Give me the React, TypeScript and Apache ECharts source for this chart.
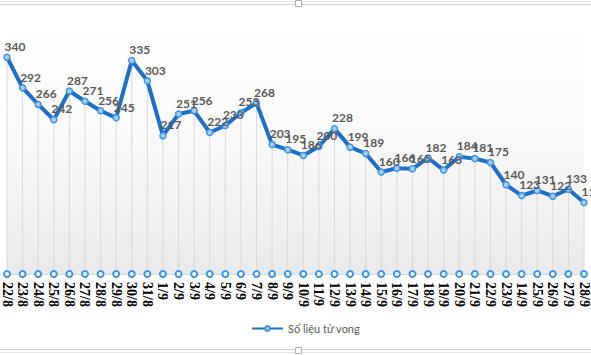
import React, { useEffect, useRef } from "react";
import * as echarts from "echarts";

const categories = [
  "22/8", "23/8", "24/8", "25/8", "26/8", "27/8", "28/8", "29/8", "30/8", "31/8",
  "1/9", "2/9", "3/9", "4/9", "5/9", "6/9", "7/9", "8/9", "9/9", "10/9",
  "11/9", "12/9", "13/9", "14/9", "15/9", "16/9", "17/9", "18/9", "19/9", "20/9",
  "21/9", "22/9", "23/9", "14/9", "25/9", "26/9", "27/9", "28/9",
];

const deaths = [
  340, 292, 266, 242, 287, 271, 256, 245, 335, 303,
  217, 251, 256, 222, 233, 253, 268, 203, 195, 186,
  200, 228, 199, 189, 160, 166, 165, 182, 163, 184,
  181, 175, 140, 123, 131, 122, 133, 112,
];

const baseline = categories.map(() => 0);

const seriesName = "Số liệu tử vong";

export default function App() {
  const ref = useRef<HTMLDivElement>(null);
  useEffect(() => {
    if (!ref.current) return;
    const chart = echarts.init(ref.current, undefined, { renderer: "svg" });
    chart.setOption({
      animation: false,
      backgroundColor: "#ffffff",
      grid: {
        left: 5,
        right: 1,
        top: 19,
        bottom: 81,
        show: true,
        borderWidth: 0,
        backgroundColor: new echarts.graphic.LinearGradient(0, 0, 0, 1, [
          { offset: 0, color: "#ffffff" },
          { offset: 0.4, color: "#fbfbfb" },
          { offset: 1, color: "#eaeaea" },
        ]),
      },
      legend: {
        data: [seriesName],
        bottom: 16,
        left: 246,
        itemWidth: 31,
        itemHeight: 6,
        itemGap: 3,
        textStyle: { color: "#595959", fontSize: 11, fontFamily: "Lato" },
      },
      xAxis: {
        type: "category",
        data: categories,
        boundaryGap: false,
        axisLine: { show: true, lineStyle: { color: "#d9d9d9" } },
        axisTick: { show: false },
        axisLabel: {
          rotate: -90,
          interval: 0,
          margin: 8,
          fontFamily: "Liberation Serif",
          fontWeight: "bold",
          fontSize: 14,
          color: "#000000",
        },
        splitLine: { show: false },
      },
      yAxis: {
        type: "value",
        min: 0,
        max: 400,
        show: false,
        splitLine: { show: false },
      },
      series: [
        {
          name: "drop",
          type: "bar",
          data: deaths,
          barWidth: 1,
          itemStyle: { color: "#d9d9d9" },
          silent: true,
          z: 1,
        },
        {
          name: "base",
          type: "line",
          data: baseline,
          lineStyle: { width: 0, opacity: 0 },
          symbol: "circle",
          symbolSize: 6,
          itemStyle: { color: "#ffffff", borderColor: "#3f95e6", borderWidth: 2 },
          z: 3,
        },
        {
          name: seriesName,
          type: "line",
          data: deaths,
          lineStyle: { color: "#1e6fc6", width: 4 },
          symbol: "circle",
          symbolSize: 6,
          itemStyle: { color: "#a9cdf0", borderColor: "#3f95e6", borderWidth: 1.5 },
          label: {
            show: true,
            position: "top",
            offset: [8, 4],
            color: "#595959",
            fontFamily: "Lato",
            fontWeight: "bold",
            fontSize: 12,
          },
          z: 4,
        },
      ],
      graphic: [
        { type: "line", shape: { x1: 0, y1: 1.5, x2: 591, y2: 1.5 }, style: { stroke: "#e6e6e6", lineWidth: 1 } },
        { type: "line", shape: { x1: 0, y1: 4.5, x2: 591, y2: 4.5 }, style: { stroke: "#cfcfcf", lineWidth: 1 } },
        { type: "line", shape: { x1: 0, y1: 349.5, x2: 591, y2: 349.5 }, style: { stroke: "#cfcfcf", lineWidth: 1 } },
        { type: "line", shape: { x1: 0, y1: 352.5, x2: 591, y2: 352.5 }, style: { stroke: "#e6e6e6", lineWidth: 1 } },
        { type: "rect", shape: { x: 295.5, y: 0.5, width: 6, height: 6 }, style: { fill: "#ffffff", stroke: "#b0b0b0", lineWidth: 1 } },
        { type: "rect", shape: { x: 295.5, y: 347.5, width: 6, height: 6 }, style: { fill: "#ffffff", stroke: "#b0b0b0", lineWidth: 1 } },
      ],
    });
    return () => chart.dispose();
  }, []);
  return (
    <div
      ref={ref}
      style={{ position: "fixed", left: 0, top: 0, width: 591, height: 355 }}
    />
  );
}
